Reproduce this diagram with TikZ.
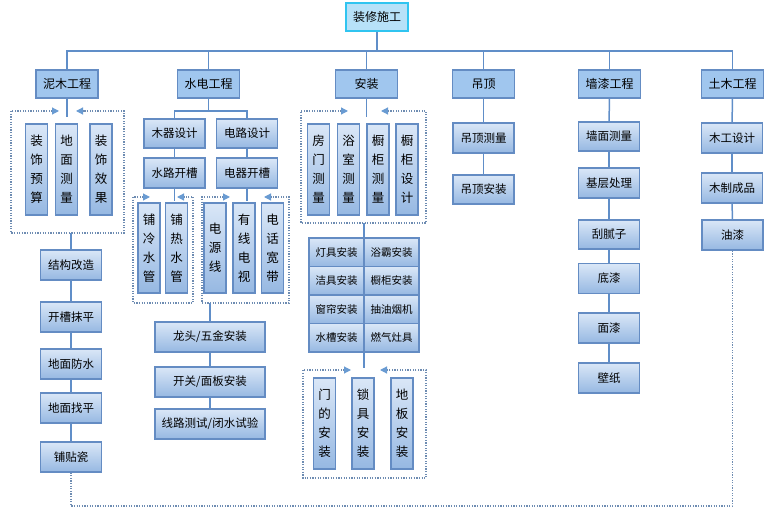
\documentclass[tikz,border=0pt]{standalone}
\usepackage{fontspec}
\newfontfamily\cjkfont{Noto Sans CJK SC}
\usetikzlibrary{arrows.meta, positioning, calc}
\definecolor{rootfill}{RGB}{183,225,248}
\definecolor{rootline}{RGB}{48,196,240}
\definecolor{headfill}{RGB}{160,198,238}
\definecolor{boxline}{RGB}{100,140,195}
\definecolor{boxtop}{RGB}{218,231,247}
\definecolor{boxbot}{RGB}{150,184,226}
\definecolor{linkblue}{RGB}{96,142,200}
\definecolor{dotgray}{RGB}{110,140,178}
\definecolor{tipblue}{RGB}{105,155,210}

\begin{document}
\begin{tikzpicture}[x=1pt, y=-1pt,
  rootbox/.style={draw=rootline, line width=1.6pt, fill=rootfill, minimum width=62pt, minimum height=28pt, inner sep=0pt, font=\cjkfont\fontsize{12}{14}\selectfont},
  headbox/.style={draw=boxline, line width=1.2pt, fill=headfill, minimum width=62pt, minimum height=28pt, inner sep=0pt, font=\cjkfont\fontsize{12}{14}\selectfont},
  subbox/.style={draw=boxline, line width=1.2pt, top color=boxtop, bottom color=boxbot, minimum width=61pt, minimum height=30pt, inner sep=0pt, font=\cjkfont\fontsize{11.5}{14}\selectfont},
  vbox/.style={subbox, minimum width=22pt, minimum height=91pt, text width=13pt, align=center, font=\cjkfont\fontsize{12.5}{19}\selectfont},
  cell/.style={subbox, minimum width=55pt, minimum height=28.5pt, font=\cjkfont\fontsize{10.5}{13}\selectfont},
  link/.style={draw=linkblue, line width=1.5pt},
  dotline/.style={draw=dotgray, line width=1.2pt, dash pattern=on 1.2pt off 1.4pt},
  dotframe/.style={dotline, {Triangle[length=7pt, width=7pt, color=tipblue]}-{Triangle[length=7pt, width=7pt, color=tipblue]}}
]
\useasboundingbox (0,0) rectangle (768,510);

\node[rootbox] (root) at (377,17) {装修施工};
\coordinate (bus) at (377,51);

\node[headbox] (nm) at (67,84) {泥木工程};
\node[headbox] (sd) at (208.5,84) {水电工程};
\node[headbox] (az) at (366.5,84) {安装};
\node[headbox] (dd) at (483.5,84) {吊顶};
\node[headbox] (qq) at (609.5,84) {墙漆工程};
\node[headbox] (tm) at (732.5,84) {土木工程};

\draw[link] (root) -- (bus);
\foreach \h in {nm,sd,az,dd,qq,tm}
  \draw[link] (bus) -| (\h);

% 泥木工程
\coordinate (nmt) at (67,117);
\coordinate (nmb) at (71,233);
\draw[link] (nm) -- (nmt);
\draw[dotframe] (59,111) -- (11,111) -- (11,233) -- (124,233) -- (124,111) -- (76,111);
\node[vbox] (zsys) at (36.5,169.5) {装\\饰\\预\\算};
\node[vbox] (dmcl) at (66.5,169.5) {地\\面\\测\\量};
\node[vbox] (zsxg) at (101,169.5) {装\\饰\\效\\果};

\node[subbox] (jggz) at (71,265) {结构改造};
\node[subbox] (kcmp) at (71,317) {开槽抹平};
\node[subbox] (dmfs) at (71,364) {地面防水};
\node[subbox] (dmzp) at (71,408) {地面找平};
\node[subbox] (ptc) at (71,457) {铺贴瓷};
\draw[link] (nmb) -- (jggz);
\foreach \a/\b in {jggz/kcmp, kcmp/dmfs, dmfs/dmzp, dmzp/ptc}
  \draw[link] (\a) -- (\b);

% 水电工程
\coordinate (sdj) at (208.5,111);
\node[subbox, minimum height=29pt] (mqsj) at (174.5,133.5) {木器设计};
\node[subbox, minimum height=29pt] (dlsj) at (247,133.5) {电路设计};
\node[subbox] (slkc) at (174.5,173) {水路开槽};
\node[subbox] (dqkc) at (247,173) {电器开槽};
\draw[link] (sd) -- (sdj);
\draw[link] (sdj) -| (mqsj);
\draw[link] (sdj) -| (dlsj);
\draw[link] (mqsj) -- (slkc);
\draw[link] (dlsj) -- (dqkc);

\coordinate (slt) at (174.5,201);
\coordinate (dqt) at (247,201);
\draw[link] (slkc) -- (slt);
\draw[link] (dqkc) -- (dqt);
\draw[dotframe] (150,197) -- (133,197) -- (133,303) -- (193,303) -- (193,197) -- (177,197);
\draw[dotframe] (230,197) -- (202,197) -- (202,303) -- (289,303) -- (289,197) -- (264,197);
\node[vbox, minimum height=90pt] (plsg) at (149,248) {铺\\冷\\水\\管};
\node[vbox, minimum height=90pt] (prsg) at (176.5,248) {铺\\热\\水\\管};
\node[vbox, minimum height=90pt] (dyx) at (215,248) {电\\源\\线};
\node[vbox, minimum height=90pt] (yxds) at (244,248) {有\\线\\电\\视};
\node[vbox, minimum height=90pt] (dhkd) at (272.5,248) {电\\话\\宽\\带};

\coordinate (sdb) at (210,303);
\node[subbox, minimum width=110pt] (ltwj) at (210,337) {龙头/五金安装};
\node[subbox, minimum width=110pt] (kgmb) at (210,382) {开关/面板安装};
\node[subbox, minimum width=110pt] (xlcs) at (210,424) {线路测试/闭水试验};
\draw[link] (sdb) -- (ltwj);
\draw[link] (ltwj) -- (kgmb);
\draw[link] (kgmb) -- (xlcs);

% 安装
\coordinate (azt) at (366.5,117);
\coordinate (azb) at (364,223);
\coordinate (azm) at (364,368);
\draw[link] (az) -- (azt);
\draw[dotframe] (348,111) -- (301,111) -- (301,223) -- (426,223) -- (426,111) -- (381,111);
\node[vbox] (fmcl) at (318.5,169.5) {房\\门\\测\\量};
\node[vbox] (yscl) at (348.5,169.5) {浴\\室\\测\\量};
\node[vbox] (cgcl) at (378,169.5) {橱\\柜\\测\\量};
\node[vbox] (cgsj) at (407,169.5) {橱\\柜\\设\\计};

\foreach \l/\r [count=\i] in {灯具安装/浴霸安装, 洁具安装/橱柜安装, 窗帘安装/抽油烟机, 水槽安装/燃气灶具} {
  \node[cell] (g\i1) at (336.5,{252.25+28.5*(\i-1)}) {\l};
  \node[cell] (g\i2) at (391.5,{252.25+28.5*(\i-1)}) {\r};
}
\draw[link] (azb) -- (azb |- g11.north);
\draw[link] (azb |- g41.south) -- (azm);

\draw[dotframe] (351,370) -- (303,370) -- (303,478) -- (426,478) -- (426,370) -- (380,370);
\node[vbox] (mdaz) at (324.5,423.5) {门\\的\\安\\装};
\node[vbox] (sjaz) at (363,423.5) {锁\\具\\安\\装};
\node[vbox] (dbaz) at (402,423.5) {地\\板\\安\\装};

% 吊顶
\node[subbox] (ddcl) at (483.5,138) {吊顶测量};
\node[subbox, minimum height=29pt] (ddaz) at (483.5,189.5) {吊顶安装};
\draw[link] (dd) -- (ddcl);
\draw[link] (ddcl) -- (ddaz);

% 墙漆工程
\node[subbox, minimum height=29pt] (qmcl) at (609,136.5) {墙面测量};
\node[subbox] (jccl) at (609,183) {基层处理};
\node[subbox, minimum height=29pt] (gnz) at (609,234.5) {刮腻子};
\node[subbox] (dqi) at (609,278.5) {底漆};
\node[subbox] (mqi) at (609,328) {面漆};
\node[subbox] (bz) at (609,378) {壁纸};
\foreach \a/\b in {qq/qmcl, qmcl/jccl, jccl/gnz, gnz/dqi, dqi/mqi, mqi/bz}
  \draw[link] (\a) -- (\b);

% 土木工程
\node[subbox] (mgsj) at (732,138) {木工设计};
\node[subbox] (mzcp) at (732,188) {木制成品};
\node[subbox] (yq) at (732.5,235) {油漆};
\foreach \a/\b in {tm/mgsj, mgsj/mzcp, mzcp/yq}
  \draw[link] (\a) -- (\b);

\coordinate (loopl) at (71,506);
\coordinate (loopr) at (732.5,506);
\draw[dotline] (ptc) -- (loopl) -- (loopr) -- (yq);
\end{tikzpicture}
\end{document}
